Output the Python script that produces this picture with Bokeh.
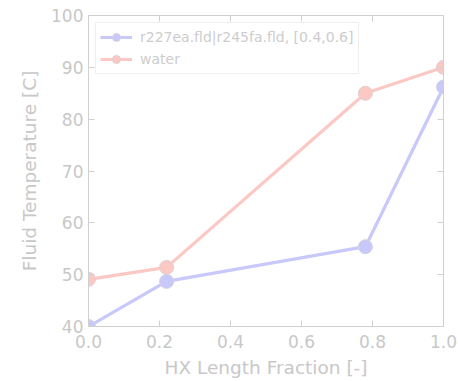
from bokeh.plotting import figure
from bokeh.models import (FixedTicker, PrintfTickFormatter, LinearAxis, Range1d,
                          Legend, LegendItem)
from bokeh.embed import file_html
from bokeh.resources import INLINE

# HX length fraction positions and fluid temperatures
hx_fraction = [0.0, 0.22, 0.78, 1.0]
wf_temp = [40.0, 48.7, 55.4, 86.2]
water_temp = [49.1, 51.4, 85.0, 90.0]

wf_label = "r227ea.fld|r245fa.fld, [0.4,0.6]"
water_label = "water"

x_ticks = [0.0, 0.2, 0.4, 0.6, 0.8, 1.0]
y_ticks = [40, 50, 60, 70, 80, 90, 100]

TXT = "#c8c8c8"
AX = "#d0d0d0"
BLUE = "#c8c8fa"
RED = "#fcc8c4"
FONT = "DejaVu Sans"

p = figure(width=458, height=381, output_backend="svg", toolbar_location=None,
           x_range=Range1d(0, 1.0), y_range=Range1d(40, 100),
           min_border_left=88, min_border_right=15, min_border_top=15,
           min_border_bottom=55)
p.xgrid.visible = False
p.ygrid.visible = False
p.outline_line_color = AX
p.background_fill_color = "white"
p.border_fill_color = "white"

wf_line = p.line(hx_fraction, wf_temp, line_color=BLUE, line_width=3.2)
wf_pts = p.scatter(hx_fraction, wf_temp, size=14, fill_color=BLUE,
                   line_color="#d4d4e0", line_width=1)
w_line = p.line(hx_fraction, water_temp, line_color=RED, line_width=3.2)
w_pts = p.scatter(hx_fraction, water_temp, size=14, fill_color=RED,
                  line_color="#ddd0d0", line_width=1)


def style_axis(ax, show_labels=True):
    ax.axis_line_color = AX
    ax.major_tick_line_color = AX
    ax.major_tick_in = 6
    ax.major_tick_out = 0
    ax.minor_tick_line_color = None
    ax.major_label_text_color = TXT if show_labels else None
    ax.major_label_text_font = FONT
    ax.major_label_text_font_size = "17px"
    ax.axis_label_text_color = TXT
    ax.axis_label_text_font = FONT
    ax.axis_label_text_font_size = "18.5px"
    ax.axis_label_text_font_style = "normal"


p.xaxis.ticker = FixedTicker(ticks=x_ticks)
p.xaxis.formatter = PrintfTickFormatter(format="%.1f")
p.xaxis.axis_label = "HX Length Fraction [-]"
p.xaxis.major_label_standoff = 8
p.xaxis.axis_label_standoff = 6
p.yaxis.ticker = FixedTicker(ticks=y_ticks)
p.yaxis.formatter = PrintfTickFormatter(format="%d")
p.yaxis.axis_label = "Fluid Temperature [C]"
p.yaxis.major_label_standoff = 5
p.yaxis.axis_label_standoff = 8
style_axis(p.xaxis[0])
style_axis(p.yaxis[0])

top = LinearAxis(ticker=FixedTicker(ticks=x_ticks))
right = LinearAxis(ticker=FixedTicker(ticks=y_ticks))
style_axis(top, False)
style_axis(right, False)
top.major_label_text_font_size = "0px"
right.major_label_text_font_size = "0px"
top.major_label_standoff = 0
right.major_label_standoff = 0
p.add_layout(top, "above")
p.add_layout(right, "right")

legend = Legend(items=[LegendItem(label=wf_label, renderers=[wf_line, wf_pts]),
                       LegendItem(label=water_label, renderers=[w_line, w_pts])],
                location="top_left", margin=7, padding=4, spacing=2,
                glyph_width=32, glyph_height=20, label_standoff=8,
                label_text_font=FONT, label_text_font_size="14px",
                label_text_color="#cdcdcd", border_line_color="#e0e0e0",
                background_fill_alpha=0.9)
p.add_layout(legend)

open("out.html", "w").write(file_html(p, INLINE))
